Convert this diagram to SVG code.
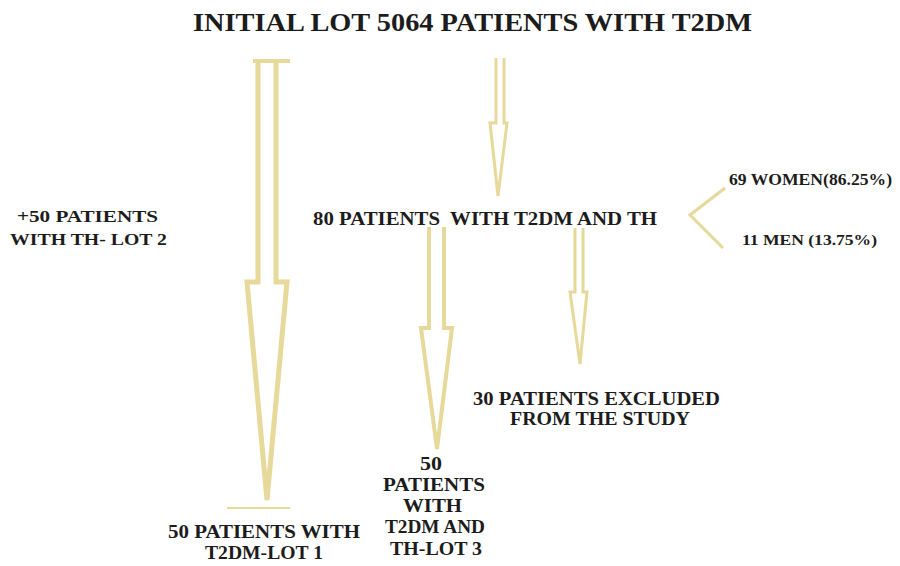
<svg xmlns="http://www.w3.org/2000/svg" width="900" height="566" viewBox="0 0 900 566">
<style>
.t{font-family:"Liberation Serif","DejaVu Serif",serif;font-weight:bold;fill:#1c1c1c;white-space:pre}
.a{fill:none;stroke:#e6d99a;stroke-linejoin:miter}
</style>
<rect width="900" height="566" fill="#ffffff"/>
<g id="connectors">
<g id="arrow-lot1">
<path class="a" stroke-width="5" d="M258,62 L258,282 L247,282 L267,500 L287,282 L276,282 L276,62"/>
<path class="a" stroke-width="4" d="M253,61 L290,61"/>
<path class="a" stroke-width="2" d="M227,508 L290,508"/>
</g>
<path id="arrow-top" class="a" stroke-width="3" d="M496,58 L496,123 L490,123 L498,196 L507,123 L504,123 L504,58"/>
<path id="arrow-lot3" class="a" stroke-width="4" d="M429,227 L429,328 L421,328 L437,449 L452,328 L444,328 L444,227"/>
<path id="arrow-excluded" class="a" stroke-width="3" d="M575,228 L575,292 L570,292 L580,364 L587,292 L583,292 L583,228"/>
<path id="split" class="a" stroke-width="3" d="M725,188 L690,215 L723,248"/>
</g>
<g id="initial"><text class="t" x="193" y="31" font-size="25" textLength="559" lengthAdjust="spacingAndGlyphs">INITIAL LOT 5064 PATIENTS WITH T2DM</text></g>
<g id="lot2">
<text class="t" x="17" y="222" font-size="17" textLength="141" lengthAdjust="spacingAndGlyphs">+50 PATIENTS</text>
<text class="t" x="10" y="245" font-size="17" textLength="157" lengthAdjust="spacingAndGlyphs">WITH TH- LOT 2</text>
</g>
<g id="th80"><text class="t" x="313" y="225" font-size="18" textLength="344" lengthAdjust="spacingAndGlyphs">80 PATIENTS  WITH T2DM AND TH</text></g>
<g id="women"><text class="t" x="729" y="185" font-size="17" textLength="163" lengthAdjust="spacingAndGlyphs">69 WOMEN(86.25%)</text></g>
<g id="men"><text class="t" x="742" y="245" font-size="15" textLength="135" lengthAdjust="spacingAndGlyphs">11 MEN (13.75%)</text></g>
<g id="excluded">
<text class="t" x="473" y="405" font-size="18" textLength="247" lengthAdjust="spacingAndGlyphs">30 PATIENTS EXCLUDED</text>
<text class="t" x="510" y="425" font-size="18" textLength="180" lengthAdjust="spacingAndGlyphs">FROM THE STUDY</text>
</g>
<g id="lot3">
<text class="t" x="420" y="470" font-size="18" textLength="22" lengthAdjust="spacingAndGlyphs">50</text>
<text class="t" x="383" y="491" font-size="18" textLength="102" lengthAdjust="spacingAndGlyphs">PATIENTS</text>
<text class="t" x="403" y="512" font-size="18" textLength="59" lengthAdjust="spacingAndGlyphs">WITH</text>
<text class="t" x="385" y="533" font-size="18" textLength="100" lengthAdjust="spacingAndGlyphs">T2DM AND</text>
<text class="t" x="390" y="555" font-size="18" textLength="92" lengthAdjust="spacingAndGlyphs">TH-LOT 3</text>
</g>
<g id="lot1">
<text class="t" x="168" y="538" font-size="18" textLength="192" lengthAdjust="spacingAndGlyphs">50 PATIENTS WITH</text>
<text class="t" x="205" y="559" font-size="18" textLength="118" lengthAdjust="spacingAndGlyphs">T2DM-LOT 1</text>
</g>
</svg>
